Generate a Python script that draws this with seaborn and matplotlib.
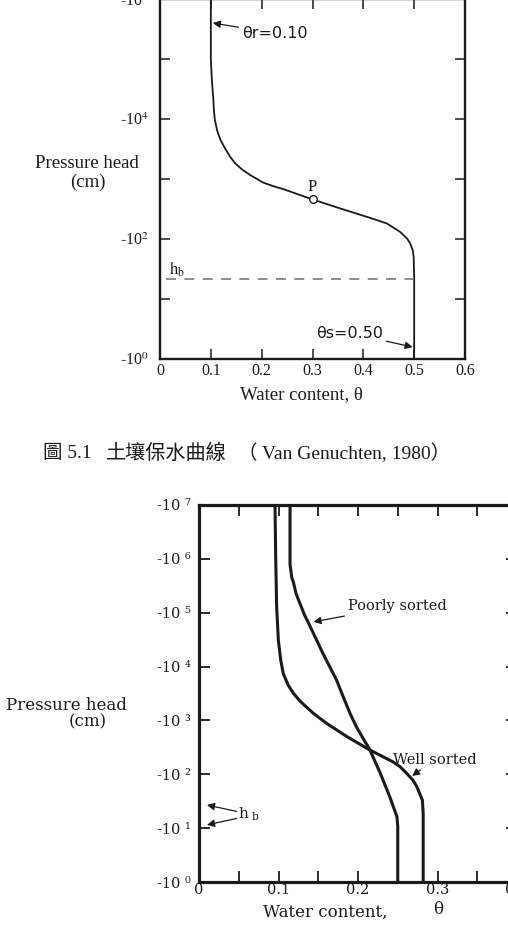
import matplotlib
matplotlib.use("Agg")
import matplotlib.pyplot as plt
from matplotlib.ticker import NullLocator
import pandas as pd
import seaborn as sns

# ---------------- data ----------------
# Fig 5.1 : van Genuchten (1980) retention curve, suction |h| in cm
vg_theta = [0.100, 0.100, 0.102, 0.105, 0.106, 0.108, 0.113, 0.119, 0.128, 0.138,
            0.148, 0.161, 0.177, 0.203, 0.223, 0.243, 0.300, 0.354, 0.407, 0.446,
            0.472, 0.486, 0.492, 0.497, 0.499, 0.500, 0.500]
vg_suction = [1e6, 1e5, 44700, 20900, 14100, 9550, 6170, 4470, 3240, 2340,
              1820, 1450, 1170, 871, 759, 676, 457, 324, 234, 182,
              132, 102, 85, 66, 51, 23, 1]
p_theta = [0.30]
p_suction = [457]
hb_top = 21.4

# Lower figure : well sorted vs poorly sorted soil
ws_theta = [0.0956, 0.0965, 0.0977, 0.0998, 0.1028, 0.106, 0.1123, 0.119, 0.127,
            0.135, 0.144, 0.161, 0.186, 0.215, 0.244, 0.253, 0.261, 0.269, 0.274,
            0.281, 0.282, 0.282]
ws_suction = [1e7, 1e6, 126000, 30900, 13200, 7410, 4470, 3160, 2290,
              1780, 1350, 871, 501, 282, 170, 138, 105, 78, 59,
              33, 18.6, 1]
ps_theta = [0.1145, 0.1145, 0.1166, 0.119, 0.122, 0.127, 0.133, 0.140, 0.148,
            0.156, 0.173, 0.183, 0.190, 0.198, 0.215, 0.228, 0.240, 0.2445,
            0.249, 0.250, 0.250]
ps_suction = [1e7, 794000, 457000, 354800, 229000, 147900, 89100, 54950, 30900,
              17380, 5620, 2400, 1350, 759, 282, 105, 38, 25,
              16.2, 10.7, 1]

top_x_ticks = [0, 0.1, 0.2, 0.3, 0.4, 0.5, 0.6]
top_x_labels = ["0", "0.1", "0.2", "0.3", "0.4", "0.5", "0.6"]
top_y_ticks = [1e0, 1e1, 1e2, 1e3, 1e4, 1e5, 1e6]
top_y_labels = ["-10$^{0}$", "", "-10$^{2}$", "", "-10$^{4}$", "", "-10$^{6}$"]

bot_x_ticks = [0, 0.1, 0.2, 0.3, 0.4]
bot_x_minor = [0.05, 0.15, 0.25, 0.35]
bot_x_labels = ["0", "0.1", "0.2", "0.3", "0.4"]
bot_y_ticks = [1e0, 1e1, 1e2, 1e3, 1e4, 1e5, 1e6, 1e7]
bot_y_labels = ["-10 ⁰", "-10 ¹", "-10 ²", "-10 ³", "-10 ⁴", "-10 ⁵", "-10 ⁶", "-10 ⁷"]

caption_fig = "圖 5.1"
caption_title = "土壤保水曲線"
caption_src = "（ Van Genuchten, 1980）"

# ---------------- figure ----------------
sns.set_theme(style="ticks")
plt.rcParams["font.family"] = ["Liberation Serif", "Noto Sans CJK TC", "DejaVu Sans"]
INK = "#1a1a1a"

W, H = 508, 930
fig = plt.figure(figsize=(W / 100, H / 100), dpi=100)
fig.patch.set_facecolor("white")


def fx(px):
    return px / W


def fy(py):
    return 1 - py / H


arrow_kw = dict(arrowstyle="-|>", color=INK, lw=0.9, shrinkA=0, shrinkB=0,
                mutation_scale=11)

# ---------- top chart ----------
ax1 = fig.add_axes([fx(160), fy(359), 305 / W, 360 / H])
df1 = pd.DataFrame({"theta": vg_theta, "suction": vg_suction})
sns.lineplot(data=df1, x="theta", y="suction", sort=False, estimator=None,
             color=INK, lw=1.3, ax=ax1)
ax1.plot(p_theta, p_suction, marker="o", ms=5.5, mfc="white", mec=INK, mew=1.0,
         ls="none", zorder=5)
ax1.set_yscale("log")
ax1.set_xlim(0, 0.6)
ax1.set_ylim(1, 1e6)
ax1.axhline(hb_top, xmin=0.02, xmax=0.5 / 0.6, color="#7a7a7a", lw=1.2,
            ls=(0, (6, 5)))
ax1.set_xticks(top_x_ticks, top_x_labels, fontsize=11.5)
ax1.set_yticks(top_y_ticks, top_y_labels, fontsize=11.5, math_fontfamily="stix")
ax1.yaxis.set_minor_locator(NullLocator())
ax1.xaxis.set_minor_locator(NullLocator())
ax1.tick_params(direction="in", length=7, width=1.1, colors=INK, top=True,
                right=True)
ax1.tick_params(axis="x", pad=3)
ax1.tick_params(axis="y", pad=8)
ax1.set_xlabel("")
ax1.set_ylabel("")
for s in ax1.spines.values():
    s.set_linewidth(1.7)
    s.set_color(INK)
    s.set_visible(True)

ax1.annotate("θr=0.10", xy=(0.104, 10 ** 5.6), xytext=(0.161, 10 ** 5.43),
             ha="left", va="center", fontsize=11.5, family="DejaVu Sans",
             color=INK, arrowprops=arrow_kw)
ax1.annotate("θs=0.50", xy=(0.497, 10 ** 0.2), xytext=(0.439, 10 ** 0.43),
             ha="right", va="center", fontsize=11.5, family="DejaVu Sans",
             color=INK, arrowprops=arrow_kw)
ax1.text(0.30, 10 ** 2.86, "P", ha="center", va="center", fontsize=12, color=INK)
ax1.text(0.034, 10 ** 1.5, r"$\mathrm{h_b}$", ha="center", va="center",
         fontsize=12, color=INK, math_fontfamily="stix")

fig.text(fx(87), fy(164), "Pressure head", ha="center", va="center",
         fontsize=13.5, color=INK)
fig.text(fx(88), fy(182), "(cm)", ha="center", va="center", fontsize=13.5,
         color=INK)
fig.text(fx(301), fy(395), "Water content, θ", ha="center", va="center",
         fontsize=13.5, color=INK)

# ---------- caption ----------
fig.text(fx(43), fy(453), caption_fig, ha="left", va="center", fontsize=14,
         color=INK)
fig.text(fx(106), fy(453), caption_title, ha="left", va="center", fontsize=14.5,
         family=["Noto Sans CJK TC"], color=INK)
fig.text(fx(238), fy(453), caption_src, ha="left", va="center", fontsize=14,
         color=INK)

# ---------- bottom chart ----------
ax2 = fig.add_axes([fx(199), fy(882), 318 / W, 377 / H])
df_ws = pd.DataFrame({"theta": ws_theta, "suction": ws_suction})
df_ps = pd.DataFrame({"theta": ps_theta, "suction": ps_suction})
sns.lineplot(data=df_ws, x="theta", y="suction", sort=False, estimator=None,
             color=INK, lw=2.2, ax=ax2)
sns.lineplot(data=df_ps, x="theta", y="suction", sort=False, estimator=None,
             color=INK, lw=2.2, ax=ax2)
ax2.set_yscale("log")
ax2.set_xlim(0, 0.4)
ax2.set_ylim(1, 1e7)
ax2.set_xticks(bot_x_ticks, bot_x_labels, fontsize=10.5, family="DejaVu Serif")
ax2.set_xticks(bot_x_minor, minor=True)
ax2.set_yticks(bot_y_ticks, bot_y_labels, fontsize=10.5, family="DejaVu Serif")
ax2.yaxis.set_minor_locator(NullLocator())
ax2.tick_params(which="both", direction="in", length=8, width=1.3, colors=INK,
                top=True, right=True)
ax2.tick_params(axis="x", pad=1)
ax2.tick_params(axis="y", pad=6)
ax2.set_xlabel("")
ax2.set_ylabel("")
for s in ax2.spines.values():
    s.set_linewidth(2.3)
    s.set_color(INK)
    s.set_visible(True)

ax2.annotate("Poorly sorted", xy=(0.144, 10 ** 4.83), xytext=(0.187, 10 ** 5.12),
             ha="left", va="center", fontsize=10.5, family="DejaVu Serif",
             color=INK, arrowprops=arrow_kw)
ax2.annotate("Well sorted", xy=(0.268, 10 ** 1.97), xytext=(0.244, 10 ** 2.27),
             ha="left", va="center", fontsize=10.5, family="DejaVu Serif",
             color=INK, arrowprops=arrow_kw)
ax2.annotate("", xy=(0.010, 10 ** 1.43), xytext=(0.0474, 10 ** 1.31),
             arrowprops=arrow_kw)
ax2.annotate("", xy=(0.010, 10 ** 1.06), xytext=(0.0474, 10 ** 1.18),
             arrowprops=arrow_kw)
ax2.text(0.049, 10 ** 1.25, r"$\mathrm{h_{\ b}}$", ha="left", va="center",
         fontsize=11, color=INK, math_fontfamily="dejavuserif")

fig.text(fx(66), fy(705), "Pressure head", ha="center", va="center",
         fontsize=12, family="DejaVu Serif", color=INK)
fig.text(fx(88), fy(722), "(cm)", ha="center", va="center",
         fontsize=12, family="DejaVu Serif", color=INK)
fig.text(fx(325), fy(912), "Water content,", ha="center", va="center",
         fontsize=12, family="DejaVu Serif", color=INK)
fig.text(fx(438), fy(909), "θ", ha="center", va="center",
         fontsize=12, family="DejaVu Serif", color=INK)

fig.savefig("out.png", dpi=100, facecolor="white")
